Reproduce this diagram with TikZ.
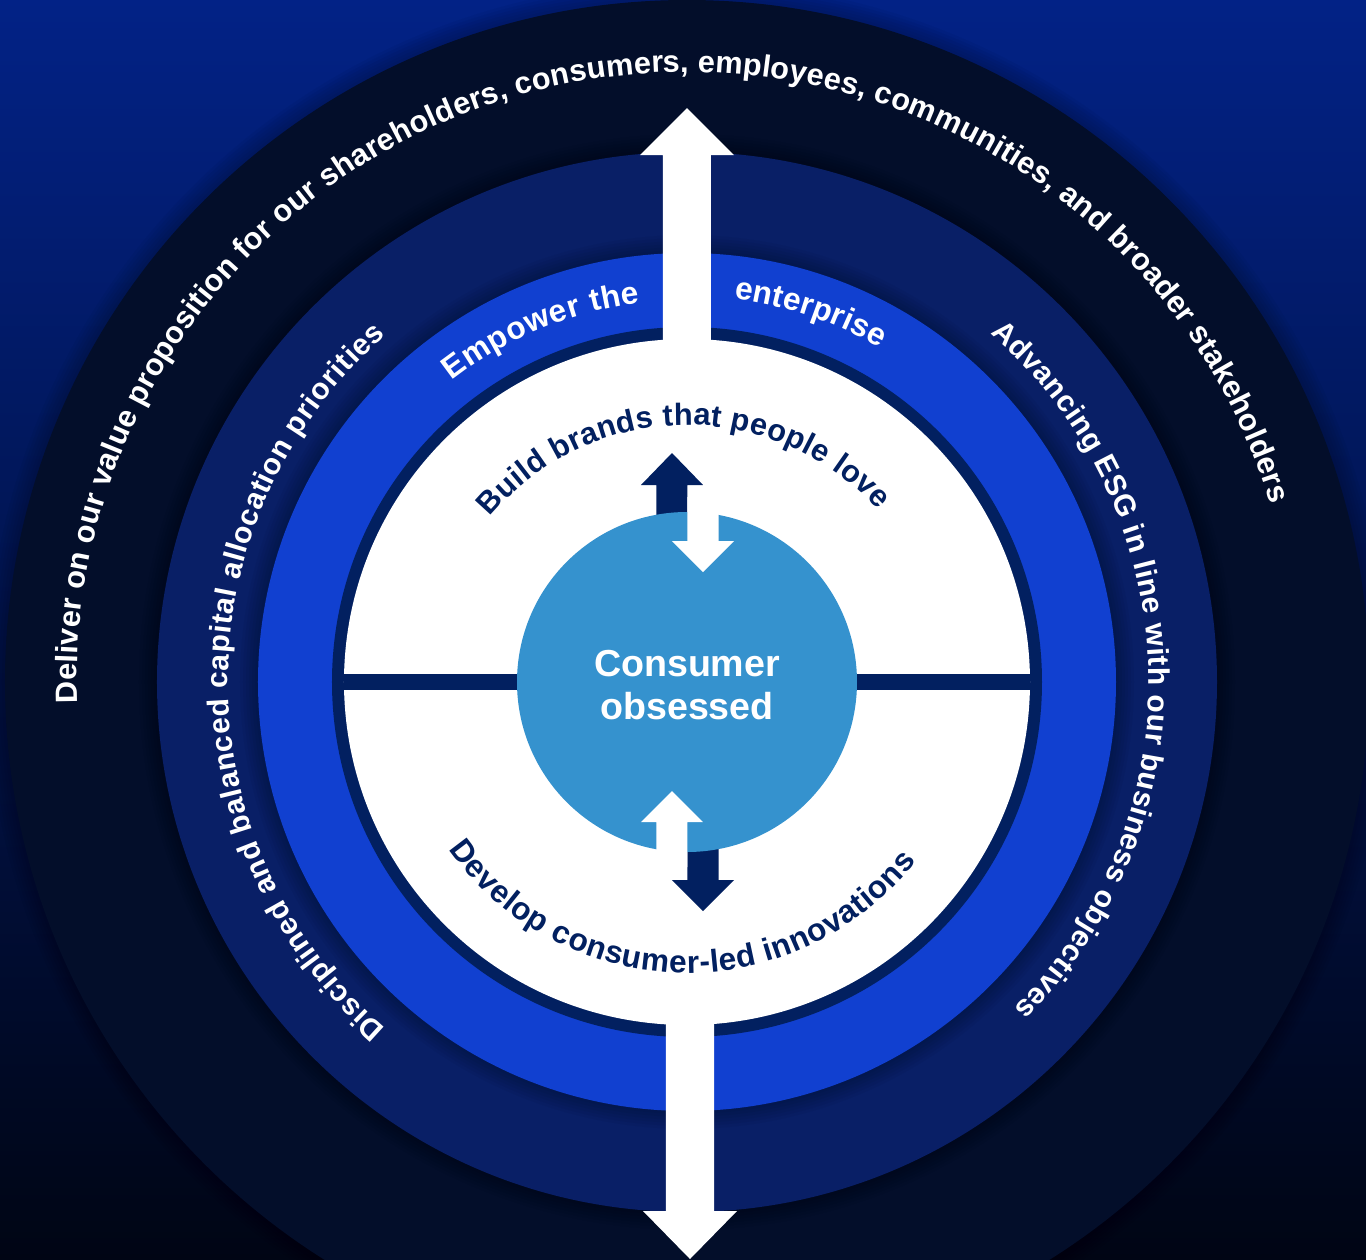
\documentclass[tikz,border=0pt]{standalone}
\usepackage{fontspec}
\setmainfont{Liberation Sans}
\usetikzlibrary{decorations.text}
\definecolor{bgtop}{RGB}{2,34,134}
\definecolor{bgbottom}{RGB}{0,5,20}
\definecolor{night}{RGB}{3,14,42}
\definecolor{navy}{RGB}{9,31,102}
\definecolor{royal}{RGB}{17,64,208}
\definecolor{ink}{RGB}{2,32,96}
\definecolor{sky}{RGB}{53,146,206}
\newcommand{\outerfont}{\fontsize{17.5}{17.5}\selectfont\bfseries\color{white}}
\newcommand{\midfont}{\fontsize{17}{17}\selectfont\bfseries\color{white}}
\newcommand{\bluefont}{\fontsize{18}{18}\selectfont\bfseries\color{white}}
\newcommand{\innerfont}{\fontsize{17.5}{17.5}\selectfont\bfseries\color{ink}}
\newcommand{\lowfont}{\fontsize{18}{18}\selectfont\bfseries\color{ink}}
% x, shaft half width, head half width, shaft end, head base, tip
\newcommand{\blockarrow}[6]{({#1-#2},#4) -- ({#1-#2},#5) -- ({#1-#3},#5) -- (#1,#6)
  -- ({#1+#3},#5) -- ({#1+#2},#5) -- ({#1+#2},#4) -- cycle}
\tikzstyle{core} = [text=white, align=center, font=\fontsize{21.4}{24.4}\selectfont\bfseries]
\tikzset{
  halo/.style={fill=black, opacity=0.035},
  curved/.style={decorate, decoration={text along path, text align=fit to path, text={#1}}},
}

\begin{document}
\begin{tikzpicture}[x=0.02cm, y=0.02cm]
    \clip (-687,-577) rectangle (679,682);
    \shade[top color=bgtop, bottom color=bgbottom] (-687,-577) rectangle (679,682);
    % rings, each with a soft shadow
    \foreach \r in {3,6,...,18} \fill[halo] (0,0) circle[radius=682+\r];
    \fill[night] (0,0) circle[radius=682];
    \foreach \r in {3,6,...,18} \fill[halo] (0,0) circle[radius=530+\r];
    \fill[navy] (0,0) circle[radius=530];
    \foreach \r in {3,6,...,18} \fill[halo] (0,0) circle[radius=429+\r];
    \fill[royal] (0,0) circle[radius=429];
    \fill[ink] (0,0) circle[radius=355];
    % long two-way arrow
    \fill[white] \blockarrow{0}{24}{47}{300}{527}{574};
    \fill[white] \blockarrow{3}{24}{47}{-300}{-529}{-577};
    \fill[white] (0,0) circle[radius=343];
    \fill[ink] (-343,-8) rectangle (343,8);
    % small arrows round the core
    \fill[ink] \blockarrow{-15}{15.5}{31}{150}{197}{229};
    \fill[ink] \blockarrow{16}{15.5}{31}{-150}{-198}{-229};
    \fill[sky] (0,0) circle[radius=170];
    \fill[white] \blockarrow{16}{15.5}{31}{185}{141}{110};
    \fill[white] \blockarrow{-15}{15.5}{31}{-185}{-140}{-109};
    \node[core] (core) at (0,-3) {Consumer\\obsessed};
    % ring texts
    \path[curved={|\outerfont|Deliver on our value proposition for our shareholders, consumers, employees, communities, and broader stakeholders}]
      (182:610) arc[start angle=182, end angle=17, radius=610];
    \path[curved={|\midfont|Disciplined and balanced capital allocation priorities}]
      (229:459) arc[start angle=229, end angle=131, radius=459];
    \path[curved={|\midfont|Advancing ESG in line with our business objectives}]
      (49:462) arc[start angle=49, end angle=-45, radius=462];
    \path[curved={|\bluefont|Empower the}]
      (128:382) arc[start angle=128, end angle=97, radius=382];
    \path[curved={|\bluefont|enterprise}]
      (83:386) arc[start angle=83, end angle=60, radius=386];
    \path[curved={|\innerfont|Build brands that people love}]
      (140:257) arc[start angle=140, end angle=42, radius=257];
    \path[curved={|\lowfont|Develop consumer-led innovations}]
      (215:291) arc[start angle=215, end angle=322, radius=291];
\end{tikzpicture}
\end{document}
